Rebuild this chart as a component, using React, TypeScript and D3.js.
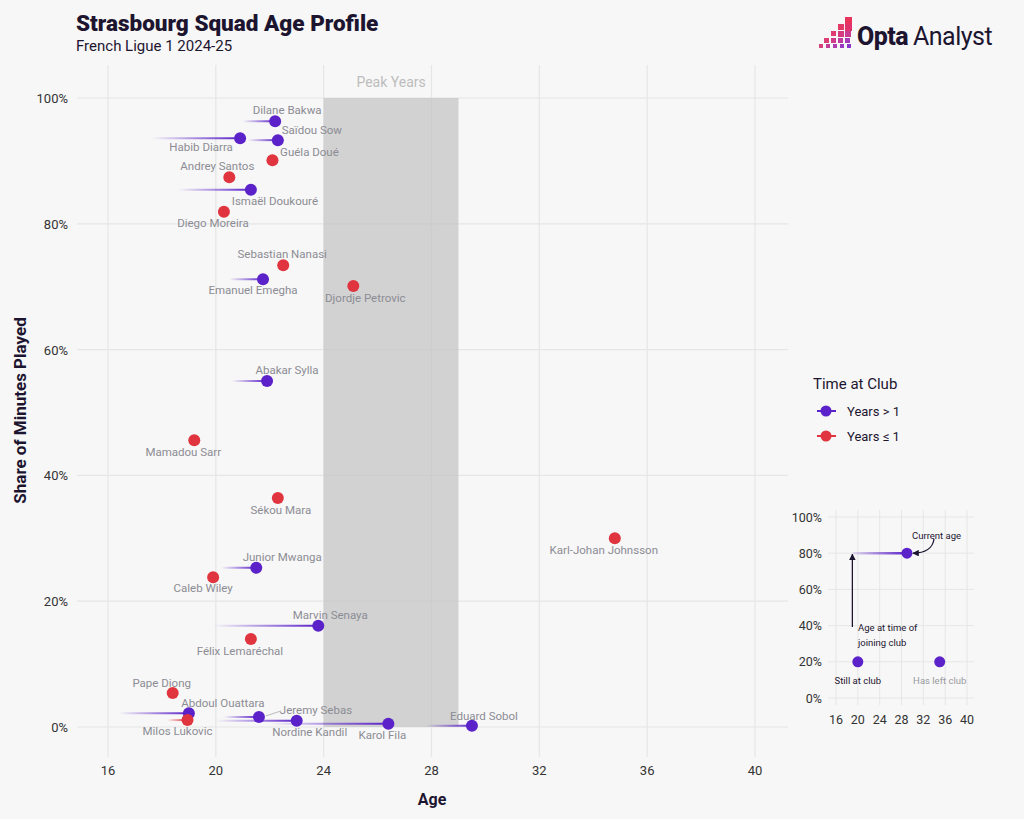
import React from "react";
import * as d3 from "d3";

// ---------- DATA ----------
const players = [
  "Dilane Bakwa", "Saïdou Sow", "Habib Diarra", "Guéla Doué", "Andrey Santos",
  "Ismaël Doukouré", "Diego Moreira", "Sebastian Nanasi", "Emanuel Emegha", "Djordje Petrovic",
  "Abakar Sylla", "Mamadou Sarr", "Sékou Mara", "Karl-Johan Johnsson", "Junior Mwanga",
  "Caleb Wiley", "Marvin Senaya", "Félix Lemaréchal", "Pape Diong", "Abdoul Ouattara",
  "Milos Lukovic", "Jeremy Sebas", "Nordine Kandil", "Karol Fila", "Eduard Sobol",
];
const currentAge = [
  22.2, 22.3, 20.9, 22.1, 20.5,
  21.3, 20.3, 22.5, 21.75, 25.1,
  21.9, 19.2, 22.3, 34.8, 21.5,
  19.9, 23.8, 21.3, 18.4, 19.0,
  18.95, 21.6, 23.0, 26.4, 29.5,
];
const joinAge = [
  21.0, 21.2, 17.6, 22.1, 20.5,
  18.6, 20.3, 22.5, 20.5, 25.1,
  20.6, 19.2, 22.3, 34.8, 20.2,
  19.9, 19.9, 21.3, 18.4, 16.4,
  18.2, 20.3, 20.0, 22.0, 27.8,
];
const minutesShare = [
  96.3, 93.3, 93.6, 90.1, 87.4,
  85.4, 81.9, 73.4, 71.2, 70.1,
  55.0, 45.6, 36.4, 30.0, 25.3,
  23.8, 16.1, 14.0, 5.4, 2.2,
  1.1, 1.6, 1.0, 0.5, 0.2,
];
const longTenure = [
  true, true, true, false, false,
  true, false, false, true, false,
  true, false, false, false, true,
  false, true, false, false, true,
  false, true, true, true, true,
];
const xTicks = [16, 20, 24, 28, 32, 36, 40];
const yTicks = [0, 20, 40, 60, 80, 100];
const peakYears = [24, 29];
const insetTicksX = [16, 20, 24, 28, 32, 36, 40];
const insetTicksY = [0, 20, 40, 60, 80, 100];

// label placement (layout only)
const labelOffsets: [number, number][] = [
  [12, -11], [34, -10], [-39, 9], [37, -8], [-12, -11],
  [24, 11], [-11, 11], [-1, -11], [-10, 11], [12, 12],
  [20, -11], [-11, 12], [3, 12], [-11, 12], [26, -11],
  [-10, 11], [12, -11], [-11, 12], [-11, -10], [34, -10],
  [-10, 11], [57, -7], [13, 11], [-6, 11], [12, -10],
];

const PURPLE = "#5b22c9";
const RED = "#e0353f";
const BG = "#f7f7f7";
const GRID = "#e6e6e6";
const DARK = "#1d1530";
const FONT = "Roboto, 'Noto Sans', sans-serif";

export default function App() {
  const W = 1024, H = 819;
  const x = d3.scaleLinear().domain([16, 40]).range([108, 755]);
  const y = d3.scaleLinear().domain([0, 100]).range([727, 98]);
  const panelLeft = 77, panelRight = 788, panelTop = 65, panelBottom = 757;

  const ix = d3.scaleLinear().domain([16, 40]).range([836, 967]);
  const iy = d3.scaleLinear().domain([0, 100]).range([698, 517]);

  const logoSquares: [number, number, number, string][] = [
    [845, 17, 7, "#e8335a"],
    [838, 24, 6, "#e23a64"], [845, 24, 7, "#e0336b"],
    [831, 31, 5, "#de3c73"], [838, 31, 6, "#d53a80"], [845, 31, 6, "#c93a92"],
    [824, 38, 5, "#dc3f75"], [831, 38, 5, "#cf3b8a"], [838, 38, 5, "#bf3aa0"], [845, 38, 5, "#a63ab8"],
    [819, 44, 4, "#d6417c"], [826, 44, 4, "#c23c96"], [833, 44, 4, "#b03cae"], [840, 44, 4, "#9a3ac2"], [847, 44, 4, "#8a38cc"],
  ];

  return (
    <svg width={W} height={H} style={{ display: "block", position: "absolute", left: 0, top: 0 }} fontFamily={FONT}>
      <defs>
        {players.map((p, i) => {
          const c = longTenure[i] ? PURPLE : RED;
          return (
            <linearGradient key={i} id={`g${i}`} gradientUnits="userSpaceOnUse"
              x1={x(joinAge[i])} y1={0} x2={x(currentAge[i])} y2={0}>
              <stop offset="0" stopColor={c} stopOpacity={0} />
              <stop offset="1" stopColor={c} stopOpacity={1} />
            </linearGradient>
          );
        })}
        <linearGradient id="gInset" gradientUnits="userSpaceOnUse" x1={ix(19)} y1={0} x2={ix(29)} y2={0}>
          <stop offset="0" stopColor={PURPLE} stopOpacity={0.1} />
          <stop offset="1" stopColor={PURPLE} stopOpacity={1} />
        </linearGradient>
        <marker id="arr" viewBox="0 0 10 10" refX="9" refY="5" markerWidth="5" markerHeight="5" orient="auto">
          <path d="M0,0 L10,5 L0,10 z" fill={DARK} />
        </marker>
      </defs>
      <rect x={0} y={0} width={W} height={H} fill={BG} />

      {/* Title */}
      <text x={76} y={31} fontSize={22.5} fontWeight={900} fill={DARK}>Strasbourg Squad Age Profile</text>
      <text x={76} y={51} fontSize={15} fill={DARK}>French Ligue 1 2024-25</text>

      {/* Logo */}
      {logoSquares.map(([sx, sy, s, c], i) => (
        <rect key={i} x={sx} y={sy} width={s} height={s} fill={c} />
      ))}
      <text x={857} y={45} fontSize={25} fontWeight={800} fill={DARK} letterSpacing={-0.5}>Opta</text>
      <text x={913} y={45} fontSize={25} fontWeight={400} fill={DARK} letterSpacing={-0.5}>Analyst</text>

      {/* Grid */}
      {yTicks.map((t) => (
        <line key={"hy" + t} x1={panelLeft} x2={panelRight} y1={y(t)} y2={y(t)} stroke={GRID} strokeWidth={1.2} />
      ))}
      {xTicks.map((t) => (
        <line key={"vx" + t} x1={x(t)} x2={x(t)} y1={panelTop} y2={panelBottom} stroke={GRID} strokeWidth={1.2} />
      ))}

      {/* Peak years */}
      <rect x={x(peakYears[0])} y={y(100)} width={x(peakYears[1]) - x(peakYears[0])} height={y(0) - y(100)} fill="#c4c4c4" opacity={0.72} />
      <text x={(x(peakYears[0]) + x(peakYears[1])) / 2} y={87} fontSize={14} fill="#bdbdbd" textAnchor="middle">Peak Years</text>

      {/* Axis tick labels */}
      {yTicks.map((t) => (
        <text key={"ty" + t} x={68} y={y(t) + 5} fontSize={13} fill="#333" textAnchor="end">{t + "%"}</text>
      ))}
      {xTicks.map((t) => (
        <text key={"tx" + t} x={x(t)} y={775} fontSize={13} fill="#333" textAnchor="middle">{t}</text>
      ))}
      <text x={432} y={805} fontSize={16} fontWeight={700} fill={DARK} textAnchor="middle">Age</text>
      <text transform={`translate(26,${y(50) - 2}) rotate(-90)`} fontSize={17} fontWeight={700} fill={DARK} textAnchor="middle">Share of Minutes Played</text>

      {/* Trails */}
      {players.map((p, i) => (
        joinAge[i] < currentAge[i] ? (
          <line key={"tr" + i} x1={x(joinAge[i])} x2={x(currentAge[i])} y1={y(minutesShare[i])} y2={y(minutesShare[i])}
            stroke={`url(#g${i})`} strokeWidth={2} />
        ) : null
      ))}

      {/* Leader line for Jeremy Sebas */}
      {(() => {
        const i = players.indexOf("Jeremy Sebas");
        const cx = x(currentAge[i]), cy = y(minutesShare[i]);
        return <line x1={cx + 7} y1={cy - 1} x2={cx + 22} y2={cy - 6} stroke="#bbb" strokeWidth={1} />;
      })()}

      {/* Points */}
      {players.map((p, i) => (
        <circle key={"pt" + i} cx={x(currentAge[i])} cy={y(minutesShare[i])} r={6} fill={longTenure[i] ? PURPLE : RED} />
      ))}

      {/* Labels */}
      {players.map((p, i) => (
        <text key={"lb" + i} x={x(currentAge[i]) + labelOffsets[i][0]} y={y(minutesShare[i]) + labelOffsets[i][1] + 4}
          fontSize={11.5} fill="#8c8c94" textAnchor="middle">{p}</text>
      ))}

      {/* Legend */}
      <text x={813} y={389} fontSize={15} fill={DARK}>Time at Club</text>
      <line x1={817} x2={836} y1={411} y2={411} stroke={PURPLE} strokeWidth={2} />
      <circle cx={826} cy={411} r={5.5} fill={PURPLE} />
      <text x={847} y={416} fontSize={13} fill={DARK}>Years &gt; 1</text>
      <line x1={817} x2={836} y1={436} y2={436} stroke={RED} strokeWidth={2} />
      <circle cx={826} cy={436} r={5.5} fill={RED} />
      <text x={847} y={441} fontSize={13} fill={DARK}>Years ≤ 1</text>

      {/* Inset */}
      {insetTicksY.map((t) => (
        <line key={"iy" + t} x1={828} x2={974} y1={iy(t)} y2={iy(t)} stroke={GRID} strokeWidth={1} />
      ))}
      {insetTicksX.map((t) => (
        <line key={"ix" + t} x1={ix(t)} x2={ix(t)} y1={510} y2={705} stroke={GRID} strokeWidth={1} />
      ))}
      {insetTicksY.map((t) => (
        <text key={"iyt" + t} x={822} y={iy(t) + 4.5} fontSize={12.5} fill="#333" textAnchor="end">{t + "%"}</text>
      ))}
      {insetTicksX.map((t) => (
        <text key={"ixt" + t} x={ix(t)} y={724} fontSize={12.5} fill="#333" textAnchor="middle">{t}</text>
      ))}
      <line x1={ix(19)} x2={ix(29)} y1={iy(80)} y2={iy(80)} stroke="url(#gInset)" strokeWidth={2.5} />
      <circle cx={ix(29)} cy={iy(80)} r={5.5} fill={PURPLE} />
      <line x1={ix(19)} x2={ix(19)} y1={627} y2={iy(80) + 1} stroke={DARK} strokeWidth={1.3} markerEnd="url(#arr)" />
      <path d={`M934,539 C933,548 925,553 ${ix(29) + 6},${iy(80)}`} fill="none" stroke={DARK} strokeWidth={1.3} markerEnd="url(#arr)" />
      <text x={912} y={539} fontSize={9.5} fill={DARK}>Current age</text>
      <text x={858} y={631} fontSize={9.5} fill={DARK}>Age at time of</text>
      <text x={858} y={646} fontSize={9.5} fill={DARK}>joining club</text>
      <circle cx={ix(20)} cy={iy(20)} r={5.5} fill={PURPLE} />
      <circle cx={ix(35)} cy={iy(20)} r={5.5} fill={PURPLE} />
      <text x={ix(20)} y={684} fontSize={9.5} fill={DARK} textAnchor="middle">Still at club</text>
      <text x={ix(35)} y={684} fontSize={9.5} fill="#9a9aa0" textAnchor="middle">Has left club</text>
    </svg>
  );
}
